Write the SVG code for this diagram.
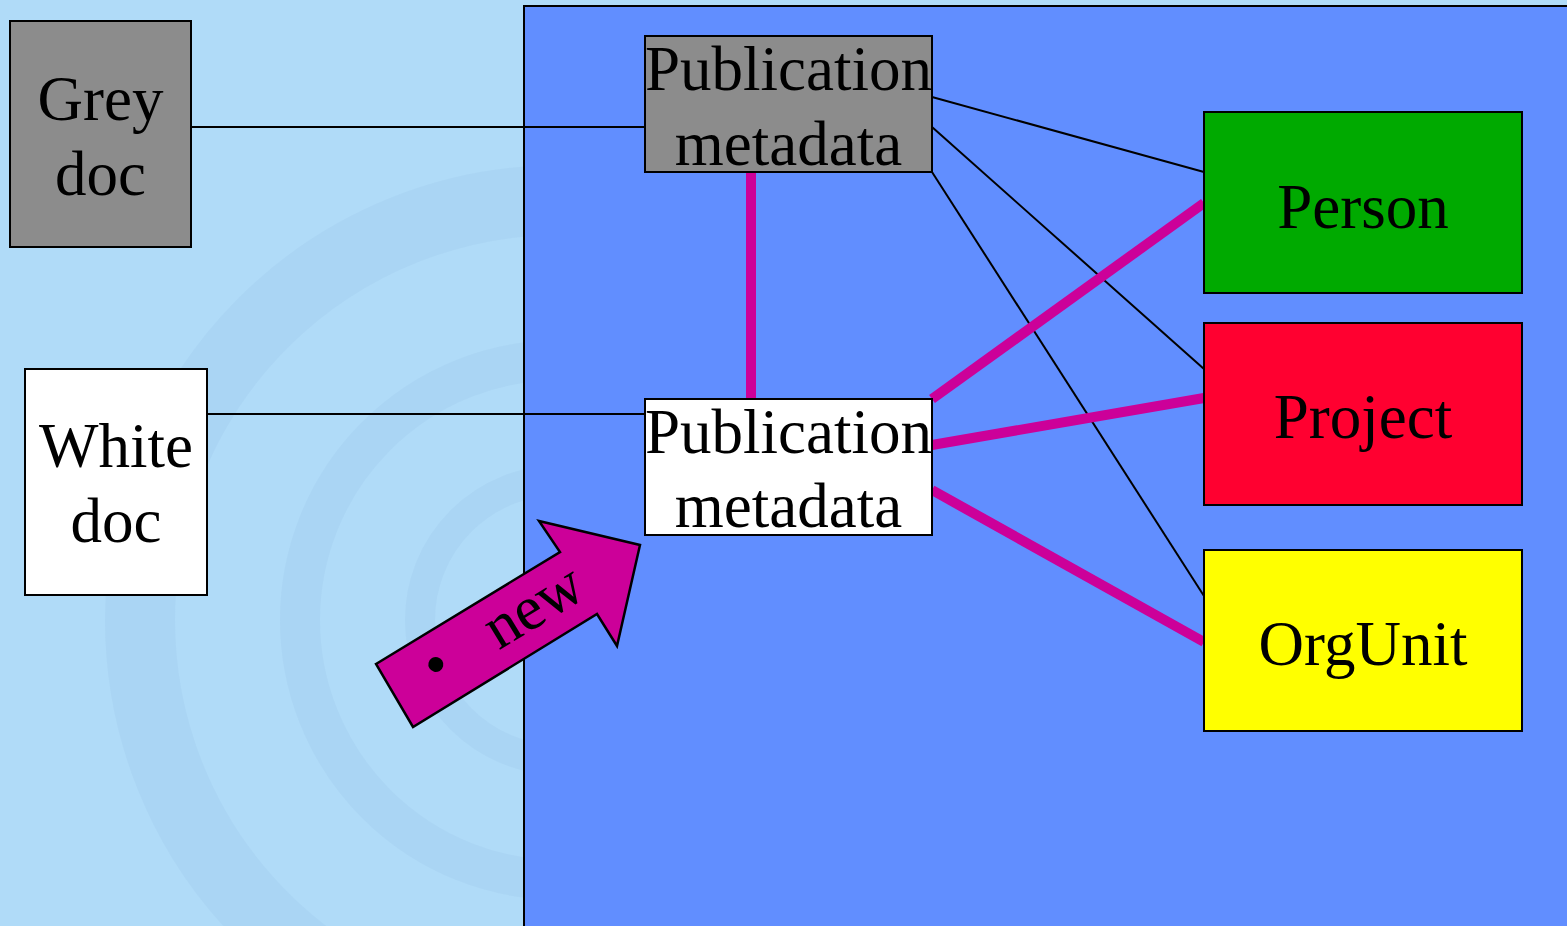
<svg xmlns="http://www.w3.org/2000/svg" width="1567" height="926" viewBox="0 0 1567 926">
<style>
.node{stroke:#000;stroke-width:2}
.lbl{font-family:"Liberation Serif","Times New Roman",serif;font-size:63px;fill:#000;text-anchor:middle}
.thin{stroke:#000;stroke-width:2;fill:none}
.thick{stroke:#cc0099;stroke-width:10;fill:none}
.arc{fill:none;stroke:#8fb8dc;stroke-opacity:0.15}
</style>
<rect x="0" y="0" width="1567" height="926" fill="#b0dbf8"/>
<g id="background-texture">
<circle class="arc" cx="560" cy="620" r="420" stroke-width="70"/>
<circle class="arc" cx="560" cy="620" r="260" stroke-width="40"/>
<circle class="arc" cx="560" cy="620" r="140" stroke-width="30"/>
</g>
<rect id="panel" x="524" y="6" width="1060" height="940" fill="#618eff" stroke="#000" stroke-width="2"/>
<g id="connectors">
<line class="thin" x1="191" y1="127" x2="645" y2="127"/>
<line class="thin" x1="207" y1="414" x2="645" y2="414"/>
<line class="thin" x1="932" y1="97" x2="1204" y2="172"/>
<line class="thin" x1="932" y1="127" x2="1204" y2="369"/>
<line class="thin" x1="932" y1="172" x2="1204" y2="596"/>
<line class="thick" x1="751" y1="172" x2="751" y2="399"/>
<line class="thick" x1="932" y1="399" x2="1204" y2="203"/>
<line class="thick" x1="932" y1="445" x2="1204" y2="398"/>
<line class="thick" x1="932" y1="490" x2="1204" y2="642"/>
</g>
<g id="grey-doc">
<rect class="node" x="10" y="21" width="181" height="226" fill="#8c8c8c"/>
<text class="lbl" x="100.5" y="120">Grey</text>
<text class="lbl" x="100.5" y="195">doc</text>
</g>
<g id="white-doc">
<rect class="node" x="25" y="369" width="182" height="226" fill="#fff"/>
<text class="lbl" x="116" y="467">White</text>
<text class="lbl" x="116" y="542">doc</text>
</g>
<g id="pub-grey">
<rect class="node" x="645" y="36" width="287" height="136" fill="#8c8c8c"/>
<text class="lbl" x="788.5" y="90">Publication</text>
<text class="lbl" x="788.5" y="165">metadata</text>
</g>
<g id="pub-white">
<rect class="node" x="645" y="399" width="287" height="136" fill="#fff"/>
<text class="lbl" x="788.5" y="453">Publication</text>
<text class="lbl" x="788.5" y="527">metadata</text>
</g>
<g id="person">
<rect class="node" x="1204" y="112" width="318" height="181" fill="#00aa00"/>
<text class="lbl" x="1363" y="228">Person</text>
</g>
<g id="project">
<rect class="node" x="1204" y="323" width="318" height="182" fill="#ff0030"/>
<text class="lbl" x="1363" y="438">Project</text>
</g>
<g id="orgunit">
<rect class="node" x="1204" y="550" width="318" height="181" fill="#ffff00"/>
<text class="lbl" x="1363" y="665">OrgUnit</text>
</g>
<g id="new-arrow">
<polygon points="376,664 560,552 539,521 640,545 617,646 597,614 413,727" fill="#cc0099" stroke="#000" stroke-width="2.5" stroke-linejoin="miter"/>
<text transform="translate(505,628) rotate(-31.3)" style="font-family:'Liberation Serif','Times New Roman',serif;font-size:63px;fill:#000" y="16"><tspan x="-89">•</tspan><tspan x="-17">new</tspan></text>
</g>
</svg>
